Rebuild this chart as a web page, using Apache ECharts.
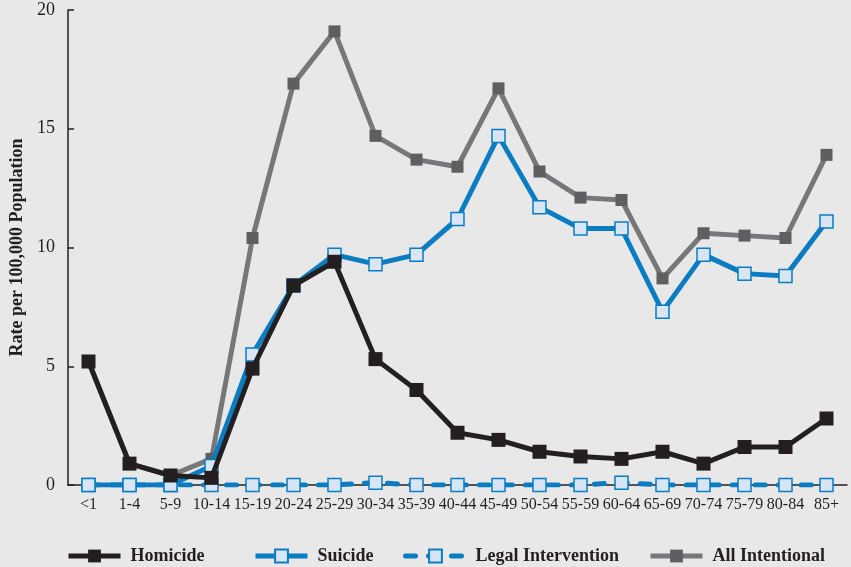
<!DOCTYPE html>
<html lang="en">
<head>
    <meta charset="UTF-8">
    <title>Intentional injury rates by age</title>
    <script src="https://cdn.jsdelivr.net/npm/echarts@6/dist/echarts.min.js"></script>
    <style>
        html, body { margin: 0; padding: 0; background: #e8e8e8; }
    </style>
</head>
<body>
<div id="main" style="width: 851px;height:567px;"></div>
<script>
    // age groups on the x axis
    var ageGroups = ['<1', '1-4', '5-9', '10-14', '15-19', '20-24', '25-29', '30-34', '35-39', '40-44',
        '45-49', '50-54', '55-59', '60-64', '65-69', '70-74', '75-79', '80-84', '85+'];
    // rates per 100,000
    var homicide = [5.2, 0.9, 0.4, 0.3, 4.9, 8.4, 9.4, 5.3, 4.0, 2.2, 1.9, 1.4, 1.2, 1.1, 1.4, 0.9, 1.6, 1.6, 2.8];
    var suicide = [0, 0, 0, 0.8, 5.5, 8.4, 9.7, 9.3, 9.7, 11.2, 14.7, 11.7, 10.8, 10.8, 7.3, 9.7, 8.9, 8.8, 11.1];
    var legalIntervention = [0, 0, 0, 0, 0, 0, 0, 0.1, 0, 0, 0, 0, 0, 0.1, 0, 0, 0, 0, 0];
    var allIntentional = [5.2, 0.9, 0.4, 1.1, 10.4, 16.9, 19.1, 14.7, 13.7, 13.4, 16.7, 13.2, 12.1, 12.0, 8.7, 10.6, 10.5, 10.4, 13.9];
    var yTicks = [0, 5, 10, 15, 20];
    var seriesNames = ['Homicide', 'Suicide', 'Legal Intervention', 'All Intentional'];

    var serif = '"Liberation Serif", "DejaVu Serif", serif';
    var ink = '#231f20';
    var blue = '#0a7dc2';
    var paleBlue = '#d7e5f4';

    // one legend per entry so each sits where it does in the print
    var legendLeft = [66, 253, 403, 648];
    var legendIconW = [52, 52, 60, 52];
    var legends = seriesNames.map(function (name, i) {
        return {
            left: legendLeft[i],
            top: 547,
            padding: 0,
            itemWidth: legendIconW[i],
            itemHeight: 16,
            lineStyle: { width: 5 },
            textStyle: { fontFamily: serif, fontSize: 18, fontWeight: 'bold', color: ink, padding: [0, 0, 0, 5] },
            data: [name]
        };
    });

    var myChart = echarts.init(document.getElementById('main'));
    var option = {
        backgroundColor: '#e8e8e8',
        animation: false,
        textStyle: { fontFamily: serif },
        grid: { left: 68, right: 4, top: 10, bottom: 82, containLabel: false, outerBoundsMode: 'none' },
        legend: legends,
        xAxis: {
            type: 'category',
            data: ageGroups,
            boundaryGap: true,
            axisLine: { lineStyle: { color: ink, width: 1.5 } },
            axisTick: { inside: true, length: 8, lineStyle: { color: ink, width: 1.5 } },
            axisLabel: { color: ink, fontSize: 16, margin: 12, interval: 0 }
        },
        yAxis: {
            type: 'value',
            min: yTicks[0],
            max: yTicks[yTicks.length - 1],
            interval: 5,
            name: 'Rate per 100,000 Population',
            nameLocation: 'middle',
            nameGap: 38,
            nameTextStyle: { fontFamily: serif, fontSize: 18, fontWeight: 'bold', color: ink },
            axisLine: { show: true, lineStyle: { color: ink, width: 1.5 } },
            axisTick: { show: true, inside: true, length: 6, lineStyle: { color: ink, width: 1.5 } },
            axisLabel: { color: ink, fontSize: 18, margin: 13 },
            splitLine: { show: false }
        },
        series: [
            {
                name: seriesNames[3],
                type: 'line',
                data: allIntentional,
                z: 2,
                symbol: 'rect',
                symbolSize: 12,
                lineStyle: { color: '#777779', width: 5 },
                itemStyle: { color: '#5f5f61', borderWidth: 0 }
            },
            {
                name: seriesNames[2],
                type: 'line',
                data: legalIntervention,
                z: 3,
                symbol: 'rect',
                symbolSize: 13,
                lineStyle: { color: blue, width: 5, type: [10, 13], cap: 'round' },
                itemStyle: { color: paleBlue, borderColor: blue, borderWidth: 1.5 }
            },
            {
                name: seriesNames[1],
                type: 'line',
                data: suicide,
                z: 4,
                symbol: 'rect',
                symbolSize: 13,
                lineStyle: { color: blue, width: 5 },
                itemStyle: { color: paleBlue, borderColor: blue, borderWidth: 1.5 }
            },
            {
                name: seriesNames[0],
                type: 'line',
                data: homicide,
                z: 5,
                symbol: 'rect',
                symbolSize: 14,
                lineStyle: { color: ink, width: 5 },
                itemStyle: { color: ink, borderWidth: 0 }
            }
        ]
    };
    myChart.setOption(option);
</script>
</body>
</html>
